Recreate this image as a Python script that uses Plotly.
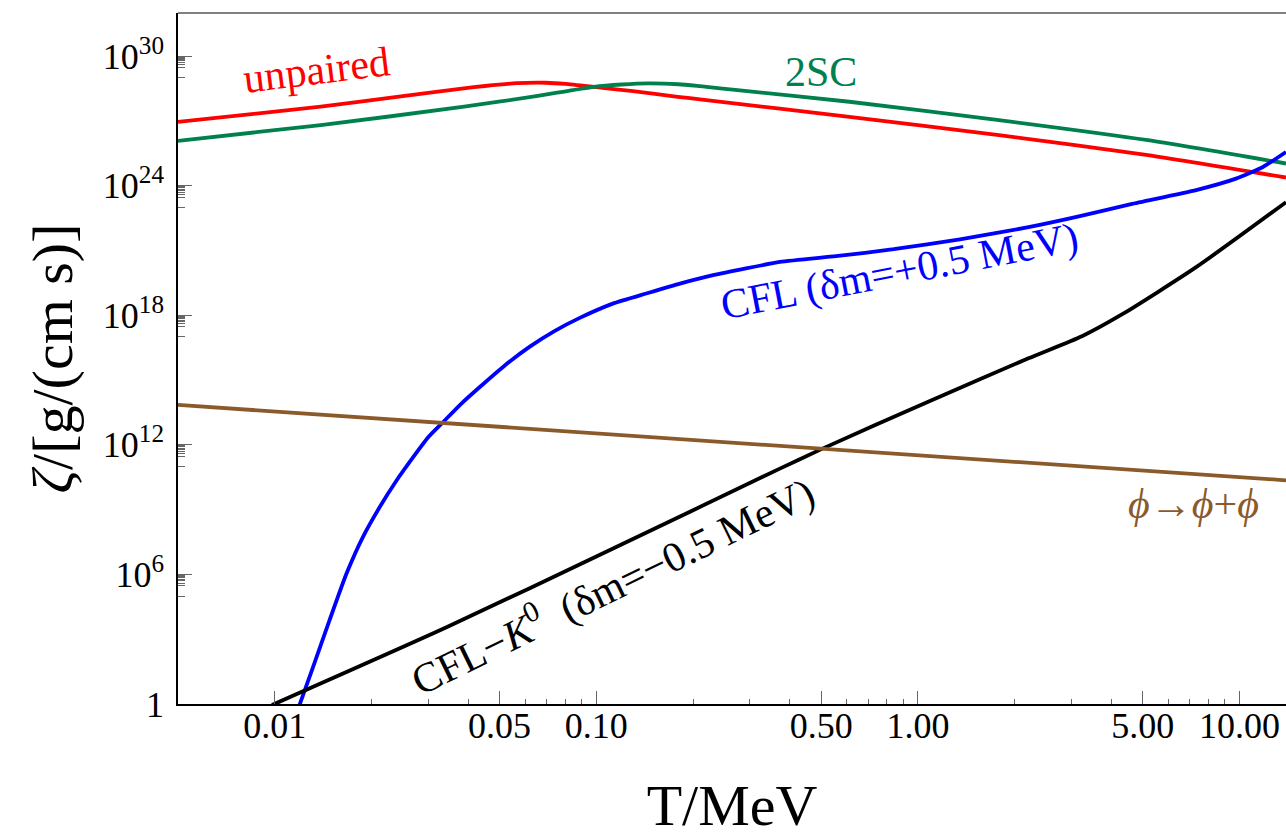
import numpy as np
import plotly.graph_objects as go

# ---------------- data ----------------
# temperature T in MeV, and log10 of bulk viscosity zeta in g/(cm s)
T_unpaired = [0.005, 0.0139, 0.025, 0.0387, 0.045, 0.0566, 0.0696, 0.08, 0.0982, 0.13, 0.179, 0.21, 0.612, 1.786, 5.19, 13.95]
log_zeta_unpaired = [26.96, 27.66, 28.15, 28.51, 28.62, 28.75, 28.77, 28.72, 28.58, 28.38, 28.12, 28.0, 27.19, 26.34, 25.42, 24.38]

T_2sc = [0.005, 0.0139, 0.0388, 0.065, 0.0982, 0.12, 0.1455, 0.18, 0.21, 0.275, 0.612, 1.786, 5.19, 13.95]
log_zeta_2sc = [26.08, 26.81, 27.66, 28.15, 28.58, 28.69, 28.74, 28.70, 28.61, 28.43, 27.89, 27.04, 26.11, 25.03]

T_cfl = [0.0119, 0.01315, 0.01483, 0.0167, 0.01879, 0.0212, 0.02388, 0.0269, 0.0299, 0.0334, 0.0379,
         0.0434, 0.0519, 0.0621, 0.0743, 0.0888, 0.1125, 0.143, 0.182, 0.2307, 0.372, 0.556,
         0.841, 1.351, 2.207, 3.19, 4.6, 7.33, 9.75, 11.83, 13.95]
log_zeta_cfl = [-0.1, 1.705, 3.92, 6.03, 7.73, 9.12, 10.34, 11.42, 12.33, 13.06, 13.89,
                14.68, 15.68, 16.55, 17.28, 17.88, 18.54, 19.01, 19.47, 19.86, 20.47, 20.74,
                21.06, 21.52, 22.08, 22.59, 23.15, 23.80, 24.33, 24.87, 25.56]

T_cflk0 = [0.0098, 0.0342, 0.1127, 0.372, 0.497, 1.072, 2.207, 3.236, 4.32, 7.33, 13.95]
log_zeta_cflk0 = [-0.05, 3.55, 7.2, 10.9, 11.78, 13.99, 16.01, 17.03, 18.05, 20.23, 23.24]

T_phi = [0.005, 0.05, 0.5, 5.0, 13.95]
log_zeta_phi = [13.85, 12.84, 11.83, 10.82, 10.36]

# axis ticks
x_tick_vals = [0.01, 0.05, 0.1, 0.5, 1.0, 5.0, 10.0]
x_tick_text = ["0.01", "0.05", "0.10", "0.50", "1.00", "5.00", "10.00"]
x_minor_vals = [0.02, 0.03, 0.04, 0.06, 0.07, 0.08, 0.09,
                0.2, 0.3, 0.4, 0.6, 0.7, 0.8, 0.9,
                2, 3, 4, 6, 7, 8, 9]
y_tick_exp = [0, 6, 12, 18, 24, 30]
y_tick_text = ["1", "10<sup>6</sup>", "10<sup>12</sup>", "10<sup>18</sup>", "10<sup>24</sup>", "10<sup>30</sup>"]
y_minor_mult = [1, 3, 4, 5, 6, 7, 8, 9]

x_range = [0.005, 13.95]
y_range_exp = [0, 32]

# curve labels: (text, T, log10 zeta, angle, font size, colour)
labels = [
    ("unpaired", 0.0135, 29.36, -7, 42, "#FF0000"),
    ("2SC", 0.498, 29.28, 0, 42, "#00804D"),
    ("CFL (δm=+0.5 MeV)", 0.878, 20.02, -11, 42, "#0000FF"),
    ("CFL−<i>K</i><sup>0</sup>  (δm=−0.5 MeV)", 0.112, 5.55, -26, 42, "#000000"),
    ("<i>ϕ</i>→<i>ϕ</i>+<i>ϕ</i>", 7.2, 9.25, 0, 42, "#8B5A2B"),
]

# ---------------- figure ----------------
series = [
    (T_unpaired, log_zeta_unpaired, "#FF0000", "unpaired", "spline", 0.6),
    (T_2sc, log_zeta_2sc, "#00804D", "2SC", "spline", 0.6),
    (T_cfl, log_zeta_cfl, "#0000FF", "CFL", "spline", 0.5),
    (T_cflk0, log_zeta_cflk0, "#000000", "CFL-K0", "spline", 0.6),
    (T_phi, log_zeta_phi, "#8B5A2B", "phi", "linear", 0),
]

fig = go.Figure()
for T, lz, col, name, shape, sm in series:
    line = dict(color=col, width=3.8, shape=shape)
    if shape == "spline":
        line["smoothing"] = sm
    fig.add_trace(go.Scatter(
        x=T, y=10.0 ** np.array(lz), mode="lines", name=name,
        line=line, hoverinfo="skip",
    ))

serif = "Liberation Serif, Times New Roman, serif"

y_minor_vals = [m * 10.0 ** (e - 1) for e in y_tick_exp[1:] for m in y_minor_mult]

fig.update_layout(
    width=1286, height=838,
    margin=dict(l=178, r=0, t=13, b=134, autoexpand=False),
    plot_bgcolor="white", paper_bgcolor="white",
    showlegend=False,
    font=dict(family=serif, color="black"),
    xaxis=dict(
        type="log", automargin=False,
        range=[np.log10(x_range[0]), np.log10(x_range[1])],
        showline=True, linecolor="black", linewidth=1.5,
        showgrid=False, zeroline=False,
        ticks="inside", ticklen=13, tickwidth=1.2, tickcolor="#666666",
        tickmode="array", tickvals=x_tick_vals, ticktext=x_tick_text,
        tickfont=dict(family=serif, size=36, color="black"),
        ticklabelstandoff=-11,
        minor=dict(tickmode="array", tickvals=x_minor_vals, ticks="inside",
                   ticklen=5, tickwidth=1.0, tickcolor="#666666", showgrid=False),
        title=dict(text="T/MeV", font=dict(family=serif, size=58, color="black"), standoff=52),
    ),
    yaxis=dict(
        type="log", automargin=False,
        range=y_range_exp,
        showline=True, linecolor="black", linewidth=1.5,
        showgrid=False, zeroline=False,
        ticks="inside", ticklen=14, tickwidth=1.2, tickcolor="#666666",
        tickmode="array", tickvals=[10.0 ** e for e in y_tick_exp], ticktext=y_tick_text,
        tickfont=dict(family=serif, size=36, color="black"),
        ticklabelstandoff=5,
        minor=dict(tickmode="array", tickvals=y_minor_vals, ticks="inside",
                   ticklen=7, tickwidth=1.0, tickcolor="#666666", showgrid=False),
        title=dict(text="<i>ζ</i>/[g/(cm s)]", font=dict(family=serif, size=58, color="black"), standoff=12),
    ),
)

# top frame line (grey)
fig.add_shape(type="line", xref="paper", yref="paper", x0=0, x1=1, y0=1, y1=1,
              line=dict(color="#808080", width=2))

for text, T, lz, ang, fs, col in labels:
    fig.add_annotation(x=np.log10(T), y=lz, xref="x", yref="y", text=text,
                       showarrow=False, textangle=ang, xanchor="center", yanchor="middle",
                       font=dict(family=serif, size=fs, color=col))

fig.write_html(
    "out.html",
    config={"displayModeBar": False},
    post_script="document.body.style.margin='0px';document.body.style.overflow='hidden';",
)
